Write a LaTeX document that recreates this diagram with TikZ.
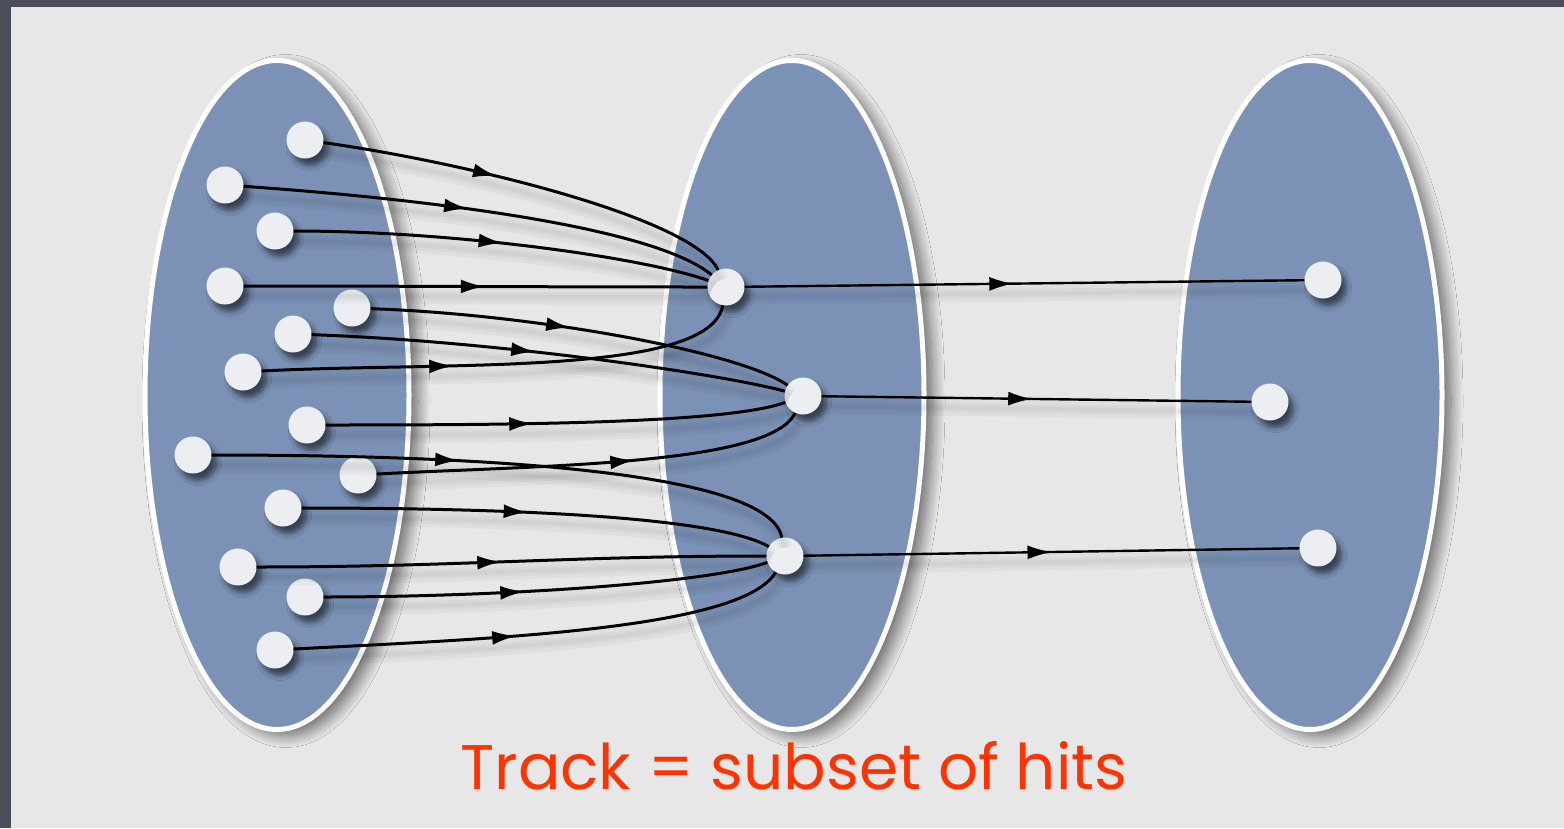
\documentclass[tikz,border=0pt]{standalone}
\usepackage{fontspec}
\setmainfont{Poppins}
\usetikzlibrary{arrows.meta,shapes.geometric,decorations.markings,shadows.blur}
\definecolor{slate}{RGB}{74,78,90}
\definecolor{panel}{RGB}{231,231,231}
\definecolor{setblue}{RGB}{123,146,182}
\definecolor{hitwhite}{RGB}{237,238,241}
\definecolor{trackred}{RGB}{255,51,0}
\tikzstyle{hitset} = [ellipse, minimum width=264pt, minimum height=669pt, fill=setblue, draw=white, line width=5pt, blur shadow={shadow xshift=9pt, shadow yshift=-6pt, shadow blur radius=12pt, shadow blur steps=15, shadow opacity=55}]
\tikzstyle{hit} = [circle, minimum size=37pt, inner sep=0pt, fill=hitwhite, blur shadow={shadow xshift=5pt, shadow yshift=-7pt, shadow blur radius=5pt, shadow opacity=55}]
% soft shadow under each track segment, arrow in the middle
\tikzset{flow/.style={draw=black, line width=3pt,
    preaction={draw=black, opacity=0.03, line width=16pt, transform canvas={shift={(3pt,-10pt)}}},
    preaction={draw=black, opacity=0.03, line width=9pt, transform canvas={shift={(3pt,-10pt)}}},
    preaction={draw=black, opacity=0.03, line width=4pt, transform canvas={shift={(3pt,-10pt)}}},
    postaction={decorate}, decoration={markings, mark=at position #1 with {\arrow{>}}}}, flow/.default=0.45}

\begin{document}
\begin{tikzpicture}[>={Latex[length=24pt,width=14pt]}, x=1pt, y=-1pt]
    \useasboundingbox (0,0) rectangle (1564,828);
    \fill[slate] (0,0) rectangle (1564,828);
    \fill[panel] (11,7) rectangle (1564,828);

    % three layers of hits
    \node[hitset] (S1) at (277,395) {};
    \node[hitset] (S2) at (792,395) {};
    \node[hitset] (S3) at (1310,395) {};

    % first layer
    \node[hit] (a1) at (305,140) {};
    \node[hit] (a2) at (225,185) {};
    \node[hit] (a3) at (275,231) {};
    \node[hit] (a4) at (225,286) {};
    \node[hit] (a5) at (352,308) {};
    \node[hit] (a6) at (293,334) {};
    \node[hit] (a7) at (243,372) {};
    \node[hit] (a8) at (307,425) {};
    \node[hit] (a9) at (193,455) {};
    \node[hit] (a10) at (358,475) {};
    \node[hit] (a11) at (283,508) {};
    \node[hit] (a12) at (238,567) {};
    \node[hit] (a13) at (305,597) {};
    \node[hit] (a14) at (275,650) {};
    % second layer
    \node[hit] (b1) at (726,287) {};
    \node[hit] (b2) at (803,396) {};
    \node[hit] (b3) at (785,556) {};
    % third layer
    \node[hit] (c1) at (1323,280) {};
    \node[hit] (c2) at (1270,402) {};
    \node[hit] (c3) at (1318,548) {};

    \path (a1) edge [flow=0.42, out=-8, in=115, out looseness=0.9, in looseness=0.35] (b1)
          (a2) edge [flow=0.47, out=-4, in=140, out looseness=1, in looseness=0.4] (b1)
          (a3) edge [flow=0.5, out=0, in=160, out looseness=1, in looseness=0.4] (b1)
          (a4) edge [flow=0.52, out=0, in=180] (b1)
          (a7) edge [flow=0.4, out=3, in=-100, out looseness=1, in looseness=0.4] (b1);
    \path (a5) edge [flow=0.47, out=-2, in=145, out looseness=1, in looseness=0.35] (b2)
          (a6) edge [flow=0.47, out=-2, in=165, out looseness=1, in looseness=0.35] (b2)
          (a8) edge [flow=0.45, out=0, in=-160, out looseness=1, in looseness=0.35] (b2)
          (a10) edge [flow=0.6, out=3, in=-115, out looseness=1, in looseness=0.35] (b2);
    \path (a9) edge [flow=0.42, out=0, in=100, out looseness=1.2, in looseness=0.3] (b3)
          (a11) edge [flow=0.48, out=0, in=150, out looseness=1, in looseness=0.35] (b3)
          (a12) edge [flow=0.48, out=0, in=180] (b3)
          (a13) edge [flow=0.45, out=0, in=-160, out looseness=1, in looseness=0.35] (b3)
          (a14) edge [flow=0.45, out=3, in=-120, out looseness=1, in looseness=0.35] (b3);
    \path (b1) edge [flow=0.48, line width=2.4pt] (c1)
          (b2) edge [flow=0.49, line width=2.4pt] (c2)
          (b3) edge [flow=0.5, line width=2.4pt] (c3);

    \node[text=trackred, font=\fontsize{63}{70}\selectfont] (caption) at (794,766) {Track = subset of hits};
\end{tikzpicture}
\end{document}
